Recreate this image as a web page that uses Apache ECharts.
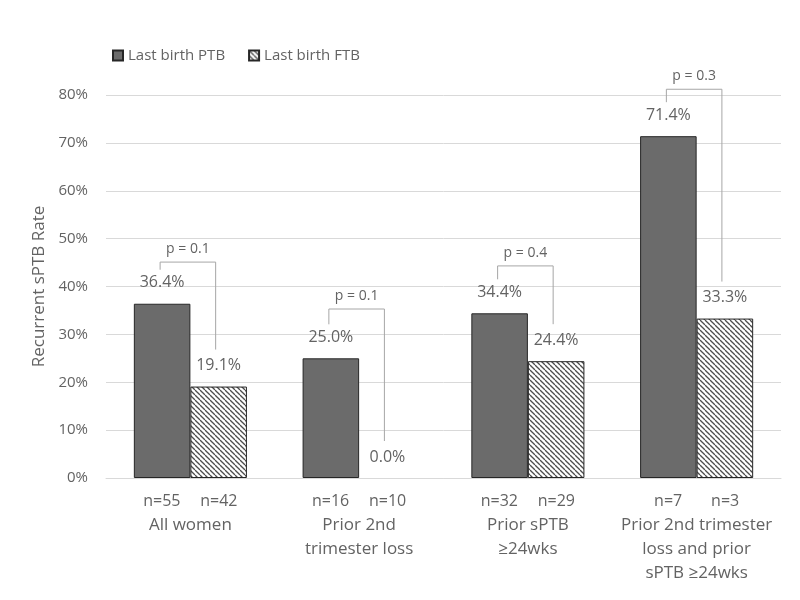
<!DOCTYPE html>
<html>
<head>
<meta charset="utf-8">
<script src="https://cdn.jsdelivr.net/npm/echarts@6/dist/echarts.min.js"></script>
<style>
html, body { margin: 0; padding: 0; background: #fff; }
#main { width: 800px; height: 600px; }
</style>
</head>
<body>
<div id="main"></div>
<script>
var categories = ['All women', 'Prior 2nd\ntrimester loss', 'Prior sPTB\n≥24wks', 'Prior 2nd trimester\nloss and prior\nsPTB ≥24wks'];
var nPTB = [55, 16, 32, 7];
var nFTB = [42, 10, 29, 3];
var ratePTB = [36.4, 25.0, 34.4, 71.4];
var rateFTB = [19.1, 0.0, 24.4, 33.3];
var pValues = ['p = 0.1', 'p = 0.1', 'p = 0.4', 'p = 0.3'];
var bracketTop = [45.1, 35.3, 44.3, 81.2];
var yTicks = [0, 10, 20, 30, 40, 50, 60, 70, 80];

var FONT = '"Open Sans", sans-serif';
var TXT = '#636363';

// diagonal hatch for the FTB bars
function hatch() {
	var s = 5;
	var cv = document.createElement('canvas');
	cv.width = s; cv.height = s;
	var c = cv.getContext('2d');
	c.fillStyle = '#fff';
	c.fillRect(0, 0, s, s);
	c.strokeStyle = '#4d4d4d';
	c.lineWidth = 1.3;
	for (var k = -1; k <= 1; k++) {
		c.beginPath();
		c.moveTo(k * s, 0);
		c.lineTo(k * s + s, s);
		c.stroke();
	}
	return { image: cv, repeat: 'repeat' };
}
var hatchFill = hatch();

var xLabels = categories.map(function(name, i) {
	return '{n|n=' + nPTB[i] + '}{n|n=' + nFTB[i] + '}\n' + name;
});

// a zero bar gets no outline (nothing drawn on the axis)
var ftbItems = rateFTB.map(function(v) {
	return v === 0 ? { value: v, itemStyle: { borderWidth: 0 } } : v;
});

var bracketData = categories.map(function(c, i) {
	return [i, ratePTB[i], rateFTB[i], bracketTop[i]];
});

var chart = echarts.init(document.getElementById('main'));
chart.setOption({
	animation: false,
	backgroundColor: '#fff',
	textStyle: { fontFamily: FONT },
	legend: {
		left: 107,
		top: 43,
		icon: 'rect',
		itemWidth: 10,
		itemHeight: 10,
		itemGap: 23,
		textStyle: { color: TXT, fontSize: 15, fontFamily: FONT },
		data: ['Last birth PTB', 'Last birth FTB']
	},
	grid: { left: 106, right: 19, top: 95, bottom: 122 },
	xAxis: {
		type: 'category',
		data: xLabels,
		axisTick: { show: false },
		axisLine: { lineStyle: { color: '#d9d9d9' } },
		axisLabel: {
			interval: 0,
			margin: 11,
			color: TXT,
			fontSize: 17,
			lineHeight: 24,
			fontFamily: FONT,
			rich: {
				n: { width: 57, align: 'center', fontSize: 16, color: TXT, lineHeight: 24, fontFamily: FONT }
			}
		}
	},
	yAxis: {
		type: 'value',
		min: 0,
		max: 80,
		interval: 10,
		name: 'Recurrent sPTB Rate',
		nameLocation: 'middle',
		nameGap: 54,
		nameTextStyle: { color: TXT, fontSize: 17, fontFamily: FONT },
		axisLine: { show: false },
		axisTick: { show: false },
		splitLine: { lineStyle: { color: '#d9d9d9' } },
		axisLabel: {
			color: TXT,
			fontSize: 15,
			margin: 18,
			formatter: function(v) { return yTicks.indexOf(v) >= 0 ? v + '%' : ''; }
		}
	},
	series: [{
		name: 'Last birth PTB',
		type: 'bar',
		data: ratePTB,
		barGap: '0%',
		barCategoryGap: '33%',
		itemStyle: { color: '#6b6b6b', borderColor: '#262626', borderWidth: 1 },
		label: {
			show: true, position: 'top', distance: 13,
			color: TXT, fontSize: 16, fontFamily: FONT,
			formatter: function(p) { return p.value.toFixed(1) + '%'; }
		}
	}, {
		name: 'Last birth FTB',
		type: 'bar',
		data: ftbItems,
		itemStyle: { color: hatchFill, borderColor: '#262626', borderWidth: 1 },
		label: {
			show: true, position: 'top', distance: 13,
			color: TXT, fontSize: 16, fontFamily: FONT,
			formatter: function(p) { return p.value.toFixed(1) + '%'; }
		}
	}, {
		// significance brackets
		type: 'custom',
		data: bracketData,
		encode: { x: 0, y: 3 },
		silent: true,
		z: 5,
		renderItem: function(params, api) {
			var i = api.value(0);
			var c = api.coord([i, 0]);
			var bw = api.size([1, 0])[0] * 0.67 / 2;
			var xL = c[0] - bw / 2 - 2;
			var xR = c[0] + bw / 2 - 3;
			var yT = api.coord([i, api.value(3)])[1];
			var yL = api.coord([i, api.value(1)])[1] - 34;
			var yR = api.coord([i, api.value(2)])[1] - 37;
			return {
				type: 'group',
				children: [{
					type: 'polyline',
					shape: { points: [[xL, yL], [xL, yT], [xR, yT], [xR, yR]] },
					style: { stroke: '#a6a6a6', lineWidth: 1, fill: null }
				}, {
					type: 'text',
					style: {
						text: pValues[i],
						x: (xL + xR) / 2, y: yT - 13,
						align: 'center', verticalAlign: 'middle',
						fill: TXT, fontSize: 14, fontFamily: FONT
					}
				}]
			};
		}
	}]
});
</script>
</body>
</html>
